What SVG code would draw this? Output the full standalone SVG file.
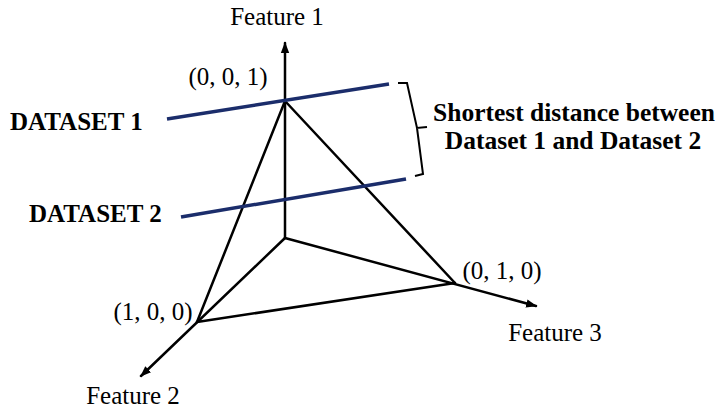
<svg xmlns="http://www.w3.org/2000/svg" width="717" height="411" viewBox="0 0 717 411">
<style>
.ax{stroke:#000;stroke-width:2.5;fill:none;stroke-linecap:round}
.ds{stroke:#1b2d6b;stroke-width:3.5;fill:none}
.br{stroke:#000;stroke-width:2;fill:none;stroke-linejoin:miter}
.t{font-family:"Liberation Serif","Times New Roman",serif;font-size:25px;fill:#000}
.b{font-family:"Liberation Serif","Times New Roman",serif;font-size:25px;font-weight:bold;fill:#000}
.bb{font-family:"Liberation Serif","Times New Roman",serif;font-size:25.5px;font-weight:bold;fill:#000}
</style>
<defs>
<marker id="arr" viewBox="0 0 10 10" refX="9" refY="5" markerWidth="4.4" markerHeight="4.4" orient="auto" markerUnits="strokeWidth">
<path d="M0,1.2 L10,5 L0,8.8 Z" fill="#000"/>
</marker>
</defs>
<g id="connectors">
<line class="ax" x1="285" y1="238" x2="285" y2="43" marker-end="url(#arr)"/>
<line class="ax" x1="285" y1="238" x2="141" y2="376" marker-end="url(#arr)"/>
<line class="ax" x1="285" y1="238" x2="536" y2="306" marker-end="url(#arr)"/>
<line class="ax" x1="285" y1="101" x2="197" y2="322"/>
<line class="ax" x1="285" y1="101" x2="455" y2="283"/>
<line class="ax" x1="197" y1="322" x2="455" y2="283"/>
</g>
<g id="dataset1">
<line class="ds" x1="167" y1="119" x2="389" y2="84"/>
<text class="b" x="10" y="130">DATASET 1</text>
</g>
<g id="dataset2">
<line class="ds" x1="181" y1="217" x2="406" y2="179"/>
<text class="b" x="29" y="222">DATASET 2</text>
</g>
<g id="brace">
<path class="br" d="M398,83 L407,83 L417,128 L427,127 M417,128 L423,174 L415,176"/>
<text class="bb" x="574" y="121" text-anchor="middle">Shortest distance between</text>
<text class="bb" x="573" y="149" text-anchor="middle">Dataset 1 and Dataset 2</text>
</g>
<g id="feature1"><text class="t" x="277" y="25" text-anchor="middle">Feature 1</text></g>
<g id="feature2"><text class="t" x="133" y="404" text-anchor="middle">Feature 2</text></g>
<g id="feature3"><text class="t" x="555" y="341" text-anchor="middle">Feature 3</text></g>
<g id="p001"><text class="t" x="228" y="85" text-anchor="middle">(0, 0, 1)</text></g>
<g id="p100"><text class="t" x="153" y="320" text-anchor="middle">(1, 0, 0)</text></g>
<g id="p010"><text class="t" x="502" y="279" text-anchor="middle">(0, 1, 0)</text></g>
</svg>
